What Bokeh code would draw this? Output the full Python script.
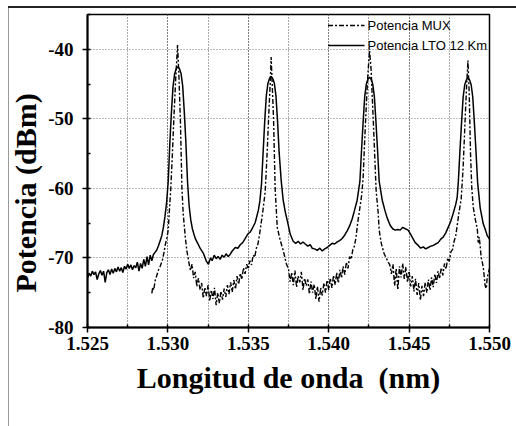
from bokeh.plotting import figure
from bokeh.models import (Range1d, SingleIntervalTicker, PrintfTickFormatter,
                          Legend, LegendItem, Title)
from bokeh.embed import file_html
from bokeh.resources import INLINE

# ---------------- data ----------------
x_ticks_interval = 0.005
y_ticks_interval = 10
series_names = ["Potencia MUX", "Potencia LTO 12 Km"]

# Potencia LTO 12 Km (solid)
lto_x = [
    1.5250, 1.5251, 1.5252, 1.5253, 1.5254, 1.5255, 1.5256, 1.5257, 1.5258, 1.5259,
    1.5260, 1.5261, 1.5262, 1.5263, 1.5264, 1.5265, 1.5266, 1.5267, 1.5268, 1.5269,
    1.5270, 1.5271, 1.5272, 1.5273, 1.5274, 1.5275, 1.5276, 1.5277, 1.5278, 1.5279,
    1.5280, 1.5281, 1.5282, 1.5283, 1.5284, 1.5285, 1.5286, 1.5287, 1.5288, 1.5289,
    1.5290, 1.5291, 1.5292, 1.5293,
    1.52942, 1.52962, 1.52972, 1.52982, 1.52992, 1.53002, 1.53012, 1.53022, 1.53032, 1.53042,
    1.53052, 1.53062, 1.53072, 1.53082, 1.53092, 1.53102, 1.53112, 1.53122, 1.53132, 1.53142,
    1.53152, 1.53162, 1.53172,
    1.53188, 1.53200, 1.53220, 1.53240, 1.53252, 1.53265, 1.53275, 1.53288, 1.53300, 1.53312,
    1.53325, 1.53337, 1.53350, 1.53362, 1.53375, 1.53387, 1.53400, 1.53419, 1.53435, 1.53450,
    1.53465, 1.53481, 1.53499, 1.53512, 1.53524, 1.53543, 1.53562,
    1.53572, 1.53582, 1.53592, 1.53602, 1.53612, 1.53622, 1.53632, 1.53642, 1.53652, 1.53662,
    1.53672, 1.53682, 1.53692, 1.53705, 1.53717, 1.53730, 1.53742,
    1.53761, 1.53779, 1.53795, 1.53810, 1.53825, 1.53840, 1.53854, 1.53870, 1.53885, 1.53897,
    1.53912, 1.53929, 1.53945, 1.53960, 1.53975, 1.53991, 1.54006, 1.54022, 1.54037, 1.54053,
    1.54068, 1.54084, 1.54100, 1.54115, 1.54130, 1.54146, 1.54160, 1.54177,
    1.54194, 1.54204, 1.54214, 1.54224, 1.54234, 1.54244, 1.54254, 1.54264, 1.54274, 1.54284,
    1.54294, 1.54304, 1.54314, 1.54333, 1.54350, 1.54363,
    1.54382, 1.54398, 1.54413, 1.54430, 1.54445, 1.54460, 1.54476, 1.54494, 1.54507, 1.54519,
    1.54538, 1.54557, 1.54572, 1.54588, 1.54603, 1.54619, 1.54635, 1.54650, 1.54665, 1.54681,
    1.54697, 1.54712, 1.54728, 1.54743, 1.54758, 1.54774, 1.54790, 1.54799,
    1.54806, 1.54816, 1.54826, 1.54836, 1.54846, 1.54856, 1.54866, 1.54876, 1.54886, 1.54896,
    1.54906, 1.54916, 1.54926, 1.54942, 1.54961, 1.54975, 1.54986, 1.55000,
]
lto_y = [
    -72.9, -72.2, -72.6, -71.9, -72.4, -72.0, -73.1, -72.3, -71.8, -72.5,
    -71.9, -73.5, -72.1, -71.7, -72.4, -71.6, -72.2, -71.5, -72.0, -71.3,
    -71.9, -71.4, -72.1, -71.2, -71.6, -70.9, -71.5, -71.0, -71.7, -71.1,
    -71.4, -70.6, -71.9, -70.8, -71.5, -70.2, -71.2, -69.8, -71.0, -69.6,
    -70.4, -69.5, -69.2, -68.9,
    -68.2, -66.8, -65.6, -64.0, -62.0, -59.0, -53.5, -49.0, -45.3, -43.5,
    -42.8, -42.5, -42.8, -43.5, -45.3, -49.0, -53.5, -59.0, -62.5, -64.5,
    -65.8, -66.6, -67.3,
    -68.0, -68.6, -69.3, -70.5, -70.9, -70.0, -70.4, -69.6, -70.1, -69.8,
    -70.2, -69.6, -69.9, -69.4, -69.8, -69.5, -69.0, -68.5, -68.6, -68.1,
    -67.8, -67.2, -66.5, -66.3, -65.8, -64.9, -63.2,
    -61.8, -59.4, -54.9, -50.4, -46.7, -44.9, -44.2, -43.9, -44.2, -44.9,
    -46.7, -50.4, -54.9, -59.0, -61.7, -63.4, -64.6,
    -66.6, -67.6, -67.9, -67.6, -68.0, -67.7, -68.0, -68.3, -68.1, -68.6,
    -68.7, -68.9, -68.6, -69.0, -68.7, -68.5, -68.2, -67.9, -68.0, -67.7,
    -67.5, -67.2, -66.7, -66.1, -65.4, -64.4, -63.2, -61.7,
    -59.0, -54.6, -50.5, -46.8, -45.0, -44.3, -44.0, -44.3, -45.0, -46.8,
    -50.5, -54.6, -59.0, -61.7, -63.2, -64.2,
    -65.3, -65.8, -66.0, -65.9, -66.0, -65.6, -65.8, -66.0, -66.5, -67.0,
    -67.8, -68.2, -68.6, -68.4, -68.7, -68.5, -68.3, -68.2, -68.0, -67.8,
    -67.3, -67.0, -66.4, -65.6, -64.8, -63.6, -62.3, -61.3,
    -59.1, -54.7, -50.6, -46.9, -45.1, -44.4, -44.1, -44.4, -45.1, -46.9,
    -50.6, -54.7, -59.1, -62.8, -65.1, -66.0, -66.8, -67.3,
]

# Potencia MUX (dash-dot)
mux_x = [
    1.52900, 1.52906, 1.52912, 1.52921, 1.52930, 1.52940, 1.52952, 1.52965, 1.52975, 1.52983,
    1.52995, 1.53002, 1.53008, 1.53018, 1.53028, 1.53038, 1.53048, 1.53060, 1.53068, 1.53078,
    1.53087, 1.53095, 1.53108, 1.53118, 1.53126,
    1.5313, 1.5314, 1.5315, 1.5316, 1.5317, 1.5318, 1.5319, 1.5320, 1.5321, 1.5322,
    1.5323, 1.5324, 1.5325, 1.5326, 1.5327, 1.5328, 1.5329, 1.5330, 1.5331, 1.5332,
    1.5333, 1.5334, 1.5335, 1.5336, 1.5337, 1.5338, 1.5339, 1.5340, 1.5341, 1.5342,
    1.5343, 1.5344, 1.5345, 1.5346, 1.5347, 1.5348, 1.5349, 1.5350, 1.5351, 1.5352,
    1.5353, 1.5354, 1.5355, 1.5356, 1.5357,
    1.53580, 1.53592, 1.53605, 1.53617, 1.53627, 1.53637, 1.53642, 1.53647, 1.53657, 1.53667,
    1.53680, 1.53699, 1.53717, 1.53736,
    1.5375, 1.5376, 1.5377, 1.5378, 1.5379, 1.5380, 1.5381, 1.5382, 1.5383, 1.5384,
    1.5385, 1.5386, 1.5387, 1.5388, 1.5389, 1.5390, 1.5391, 1.5392, 1.5393, 1.5394,
    1.5395, 1.5396, 1.5397, 1.5398, 1.5399, 1.5400, 1.5401, 1.5402, 1.5403, 1.5404,
    1.5405, 1.5406, 1.5407, 1.5408, 1.5409, 1.5410, 1.5411, 1.5412, 1.5413, 1.5414,
    1.5415, 1.5416, 1.5417, 1.5418, 1.5419,
    1.54205, 1.54214, 1.54224, 1.54234, 1.54244, 1.54254, 1.54264, 1.54274, 1.54284, 1.54295,
    1.54308, 1.54314, 1.54327, 1.54345, 1.54370,
    1.5438, 1.5439, 1.5440, 1.5441, 1.5442, 1.5443, 1.5444, 1.5445, 1.5446, 1.5447,
    1.5448, 1.5449, 1.5450, 1.5451, 1.5452, 1.5453, 1.5454, 1.5455, 1.5456, 1.5457,
    1.5458, 1.5459, 1.5460, 1.5461, 1.5462, 1.5463, 1.5464, 1.5465, 1.5466, 1.5467,
    1.5468, 1.5469, 1.5470, 1.5471, 1.5472, 1.5473, 1.5474, 1.5475, 1.5476, 1.5477,
    1.5478, 1.5479, 1.5480, 1.5481,
    1.54824, 1.54836, 1.54846, 1.54856, 1.54866, 1.54874, 1.54882, 1.54890, 1.54899, 1.54912,
    1.54924, 1.54930, 1.54936, 1.54942, 1.54948, 1.54955, 1.54961, 1.54967, 1.54973, 1.54980,
    1.54986, 1.55000,
]
mux_y = [
    -75.1, -74.2, -74.6, -73.2, -72.6, -71.8, -71.2, -70.4, -69.3, -68.2,
    -67.0, -66.0, -63.6, -60.0, -55.0, -49.5, -44.5, -39.4, -43.5, -50.5,
    -59.8, -63.6, -67.0, -69.0, -70.0,
    -70.6, -71.8, -70.9, -72.9, -72.0, -74.1, -72.9, -74.6, -73.6, -75.8,
    -74.2, -75.5, -73.9, -76.2, -74.6, -75.9, -74.3, -76.8, -75.0, -76.5,
    -74.8, -76.0, -74.4, -75.6, -73.9, -75.2, -73.5, -74.9, -73.2, -74.5,
    -72.6, -73.8, -72.2, -73.1, -71.4, -72.3, -70.9, -71.6, -70.4, -71.0,
    -69.6, -69.9, -68.6, -68.0, -66.6,
    -65.0, -63.0, -60.5, -55.0, -49.5, -44.5, -41.1, -44.0, -50.0, -60.0,
    -65.6, -67.5, -68.9, -70.8,
    -71.6, -73.4, -72.1, -73.9, -71.8, -74.2, -72.6, -73.5, -72.0, -74.6,
    -72.9, -74.0, -73.1, -75.2, -73.4, -75.0, -73.8, -75.9, -74.1, -76.3,
    -74.3, -75.4, -73.6, -75.0, -73.2, -74.6, -72.9, -74.3, -72.5, -73.9,
    -72.1, -73.6, -71.7, -72.9, -71.2, -72.4, -70.6, -71.5, -69.8, -70.2,
    -68.8, -68.3, -67.0, -65.0, -63.4,
    -61.0, -58.5, -53.0, -48.0, -43.5, -40.2, -43.0, -48.5, -54.0, -60.3,
    -63.6, -66.0, -67.9, -69.4, -70.6,
    -71.0, -72.3, -70.9, -74.0, -71.5, -74.6, -71.2, -72.8, -70.8, -73.0,
    -71.3, -73.5, -71.9, -74.1, -72.6, -74.8, -73.0, -75.3, -73.6, -76.1,
    -74.0, -75.5, -73.5, -75.0, -73.1, -74.6, -72.8, -74.2, -72.3, -73.6,
    -71.9, -73.0, -71.4, -72.5, -70.8, -71.6, -70.0, -70.5, -69.1, -68.8,
    -67.6, -66.8, -65.2, -63.5,
    -61.5, -57.0, -51.5, -46.0, -41.6, -46.5, -55.0, -60.0, -62.7, -64.5,
    -65.8, -67.8, -67.0, -68.3, -69.9, -70.6, -71.3, -72.6, -74.0, -74.4,
    -72.8, -71.5,
]

# ---------------- figure ----------------
SERIF = "Liberation Serif"

p = figure(width=516, height=426,
           x_range=Range1d(1.525, 1.550), y_range=Range1d(-80, -35),
           output_backend="svg", toolbar_location=None,
           min_border_left=87, min_border_right=27,
           min_border_top=14, min_border_bottom=99)
# page frame lines of the original screenshot (top dark line, left grey line)
p.styles = {"background": "linear-gradient(#222222, #222222) 8px 6px / 508px 2px no-repeat, "
                          "linear-gradient(#9a9a9a, #9a9a9a) 8px 6px / 1px 420px no-repeat, "
                          "#ffffff"}
p.background_fill_color = "white"
p.border_fill_color = None
p.outline_line_color = "black"
p.outline_line_width = 1.5

# axes
p.xaxis.ticker = SingleIntervalTicker(interval=x_ticks_interval, num_minor_ticks=2)
p.yaxis.ticker = SingleIntervalTicker(interval=y_ticks_interval, num_minor_ticks=2)
p.xaxis.formatter = PrintfTickFormatter(format="%.3f")
p.yaxis.formatter = PrintfTickFormatter(format="%d")
for ax in (p.xaxis, p.yaxis):
    ax.axis_line_width = 2
    ax.axis_line_color = "black"
    ax.major_tick_out = 5
    ax.major_tick_in = 0
    ax.minor_tick_in = 3
    ax.minor_tick_out = 0
    ax.major_tick_line_width = 1.5
    ax.minor_tick_line_width = 1.5
    ax.major_label_text_font = SERIF
    ax.major_label_text_font_style = "bold"
    ax.major_label_text_font_size = "19px"
    ax.major_label_text_color = "black"
p.xaxis.major_label_standoff = 4
p.yaxis.major_label_standoff = 9

p.xaxis.axis_label = "Longitud de onda\u00a0 (nm)"
p.xaxis.axis_label_text_font = SERIF
p.xaxis.axis_label_text_font_style = "bold"
p.xaxis.axis_label_text_font_size = "30px"
p.xaxis.axis_label_text_color = "black"
p.xaxis.axis_label_standoff = 8

ytitle = Title(text="Potencia (dBm)", align="left", offset=35,
               text_font=SERIF, text_font_style="bold",
               text_font_size="30px", text_color="black", standoff=7,
               text_line_height=1.0)
p.add_layout(ytitle, "left")

# grids
p.xgrid.grid_line_color = "#555555"
p.xgrid.grid_line_dash = "1 2"
p.xgrid.minor_grid_line_color = "#555555"
p.xgrid.minor_grid_line_dash = "1 2"
p.ygrid.grid_line_color = "#777777"
p.ygrid.grid_line_dash = "1 2"

# lines
r_mux = p.line(mux_x, mux_y, line_color="black", line_width=1.4,
               line_dash="5 2 2 2")
r_lto = p.line(lto_x, lto_y, line_color="black", line_width=1.5)

legend = Legend(items=[LegendItem(label=series_names[0], renderers=[r_mux]),
                       LegendItem(label=series_names[1], renderers=[r_lto])],
                location="top_right", label_text_font="Liberation Sans",
                label_text_font_size="13px", label_text_color="black",
                glyph_width=37, glyph_height=18, label_height=18,
                label_standoff=3, spacing=2, padding=0, margin=2,
                border_line_alpha=0, background_fill_alpha=0)
p.add_layout(legend)

open("out.html", "w").write(file_html(p, INLINE))
